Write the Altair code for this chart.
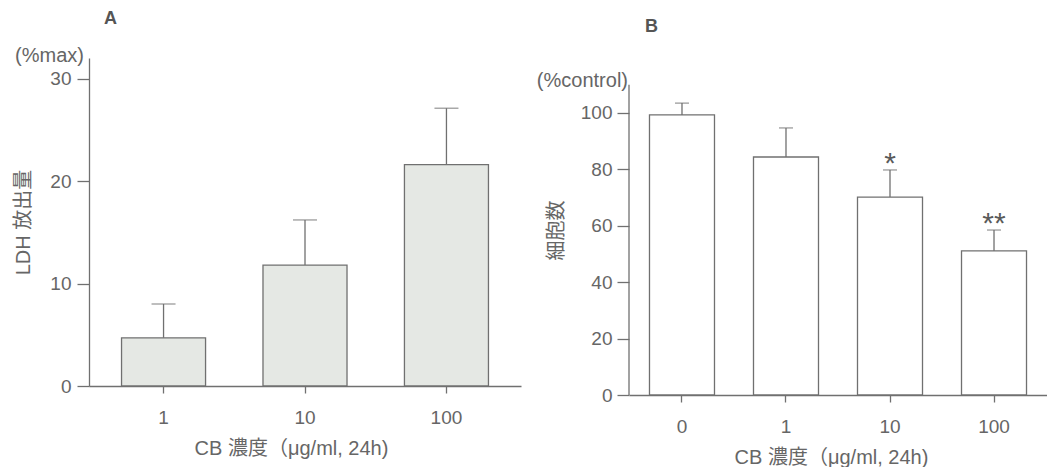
import altair as alt
import pandas as pd

# ---- data ----
a_conc = ["1", "10", "100"]
a_mean = [4.7, 11.8, 21.6]
a_upper = [8.0, 16.2, 27.1]

b_conc = ["0", "1", "10", "100"]
b_mean = [99.3, 84.4, 70.2, 51.1]
b_upper = [103.5, 94.7, 79.8, 58.5]
b_sig = ["", "", "*", "**"]

FONT = "Liberation Sans, Noto Sans CJK JP"
TXT = "#666666"
LINE = "#707070"
XTITLE = "CB 濃度（μg/ml, 24h)"

da = pd.DataFrame({"conc": a_conc, "mean": a_mean, "upper": a_upper})
db = pd.DataFrame({"conc": b_conc, "mean": b_mean, "upper": b_upper, "sig": b_sig})

# ---------------- Panel A ----------------
xa = alt.X("conc:N", sort=a_conc,
           scale=alt.Scale(paddingInner=0.406, paddingOuter=0.23),
           axis=alt.Axis(title=XTITLE, labelAngle=0, tickSize=7, labelPadding=15,
                         titleX=202, titleY=62, titleAlign="center",
                         titleBaseline="middle"))
ya = alt.Y("mean:Q", scale=alt.Scale(domain=[0, 32], nice=False),
           axis=alt.Axis(values=[0, 10, 20, 30], title="LDH 放出量", tickSize=12,
                         labelPadding=6, titleAngle=270, titleX=-66, titleY=164,
                         titleAlign="center", titleBaseline="middle"))

baseA = alt.Chart(da)
barsA = baseA.mark_bar(fill="#e5e8e4", stroke=LINE, strokeWidth=1.3).encode(x=xa, y=ya)
errA = baseA.mark_rule(color=LINE, strokeWidth=1.3).encode(x=xa, y="mean:Q", y2="upper:Q")
capA = baseA.mark_tick(color=LINE, size=24, thickness=1.3).encode(x=xa, y="upper:Q")
unitA = alt.Chart(pd.DataFrame({"t": ["(%max)"]})).mark_text(
    align="right", baseline="middle", fontSize=20, font=FONT, color=TXT
).encode(x=alt.value(-5), y=alt.value(-2), text="t:N")
letterA = alt.Chart(pd.DataFrame({"t": ["A"]})).mark_text(
    align="left", baseline="alphabetic", fontSize=18, fontWeight="bold", font=FONT, color="#555555"
).encode(x=alt.value(15), y=alt.value(-34), text="t:N")

panelA = alt.layer(barsA, errA, capA, unitA, letterA).properties(width=432, height=328)

# ---------------- Panel B ----------------
xb = alt.X("conc:N", sort=b_conc,
           scale=alt.Scale(paddingInner=0.375, paddingOuter=0.197),
           axis=alt.Axis(title=XTITLE, labelAngle=0, tickSize=7, labelPadding=15,
                         titleX=202, titleY=62, titleAlign="center",
                         titleBaseline="middle"))
yb = alt.Y("mean:Q", scale=alt.Scale(domain=[0, 119.5], nice=False),
           axis=alt.Axis(values=[0, 20, 40, 60, 80, 100], title="細胞数", tickSize=12,
                         labelPadding=5, domain=False, titleAngle=270, titleX=-73,
                         titleY=172, titleAlign="center", titleBaseline="middle"))

baseB = alt.Chart(db)
barsB = baseB.mark_bar(fill="white", stroke=LINE, strokeWidth=1.3).encode(x=xb, y=yb)
errB = baseB.mark_rule(color=LINE, strokeWidth=1.3).encode(x=xb, y="mean:Q", y2="upper:Q")
capB = baseB.mark_tick(color=LINE, size=14, thickness=1.3).encode(x=xb, y="upper:Q")
sigB = baseB.mark_text(fontSize=30, font=FONT, color="#5a5a5a", baseline="alphabetic", dy=3).encode(
    x=xb, y="upper:Q", text="sig:N")
yaxisB = alt.Chart(pd.DataFrame({"lo": [0], "hi": [110]})).mark_rule(color=LINE, strokeWidth=1.3).encode(
    x=alt.value(0), y="lo:Q", y2="hi:Q")
unitB = alt.Chart(pd.DataFrame({"t": ["(%control)"]})).mark_text(
    align="right", baseline="middle", fontSize=20, font=FONT, color=TXT
).encode(x=alt.value(-1), y=alt.value(23), text="t:N")
letterB = alt.Chart(pd.DataFrame({"t": ["B"]})).mark_text(
    align="left", baseline="alphabetic", fontSize=18, fontWeight="bold", font=FONT, color="#555555"
).encode(x=alt.value(16), y=alt.value(-26), text="t:N")

panelB = alt.layer(barsB, errB, capB, sigB, yaxisB, unitB, letterB).properties(width=418, height=337)

chart = alt.hconcat(panelA, panelB, spacing=15).properties(
    padding={"left": 5, "top": 2, "right": 0, "bottom": 0}
).configure_view(stroke=None).configure_axis(
    grid=False,
    labelFont=FONT, labelFontSize=19, labelColor=TXT,
    titleFont=FONT, titleFontSize=20, titleColor=TXT, titleFontWeight="normal",
    domainColor=LINE, tickColor=LINE, domainWidth=1.3, tickWidth=1.3,
)

chart.save("out.html", embed_options={"renderer": "svg", "actions": False})
